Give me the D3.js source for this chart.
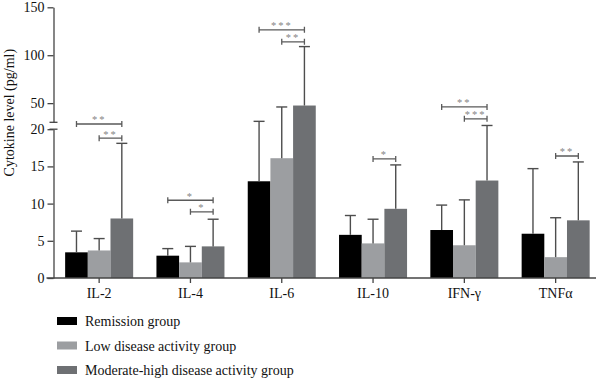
<!DOCTYPE html>
<html>
<head>
<meta charset="utf-8">
<script src="https://cdn.jsdelivr.net/npm/d3@7"></script>
<style>
  body { margin: 0; background: #fff; }
  text { font-family: "Liberation Serif", "DejaVu Serif", serif; }
</style>
</head>
<body>
<div id="canvas"></div>
<script>
// data
const categories = ["IL-2", "IL-4", "IL-6", "IL-10", "IFN-\u03b3", "TNF\u03b1"];
const groups = ["Remission group", "Low disease activity group", "Moderate-high disease activity group"];
const remission = [3.45, 3.0, 13.0, 5.8, 6.45, 5.95];
const remissionSd = [6.3, 3.95, 31.0, 8.4, 9.8, 14.7];
const lowActivity = [3.7, 2.1, 16.1, 4.65, 4.4, 2.8];
const lowActivitySd = [5.3, 4.25, 46.0, 7.9, 10.5, 8.1];
const highActivity = [8.0, 4.25, 47.5, 9.3, 13.1, 7.75];
const highActivitySd = [18.1, 7.9, 109.0, 15.2, 20.5, 15.6];
const lowTicks = [0, 5, 10, 15, 20];
const highTicks = [50, 100, 150];
// significance brackets
const sigCategory = ["IL-2", "IL-2", "IL-4", "IL-4", "IL-6", "IL-6", "IL-10", "IFN-\u03b3", "IFN-\u03b3", "TNF\u03b1"];
const sigFrom = [0, 1, 0, 1, 0, 1, 1, 0, 1, 1];
const sigTo = [2, 2, 2, 2, 2, 2, 2, 2, 2, 2];
const sigLevel = [20.7, 18.8, 10.45, 8.9, 126.5, 114, 16.0, 46, 33.6, 16.4];
const sigLabel = ["**", "**", "*", "*", "***", "**", "*", "**", "***", "**"];

const colors = ["#000000", "#9c9ea1", "#6e7073"];
const values = [remission, lowActivity, highActivity];
const sds = [remissionSd, lowActivitySd, highActivitySd];

const width = 600, height = 379;
const svg = d3.select("#canvas").append("svg")
  .attr("width", width).attr("height", height);

const axisX = 53.5;
const x = d3.scaleBand().domain(categories).range([axisX, 601.3])
  .paddingInner(0.255).paddingOuter(0.1275);
const xi = d3.scaleBand().domain(d3.range(groups.length)).range([0, x.bandwidth()]);

const yLow = d3.scaleLinear().domain([0, 20]).range([278, 129.2]);
const yHigh = d3.scaleLinear().domain([30, 150]).range([122.3, 7.3]);
const y = v => v > 25 ? yHigh(v) : yLow(v);

// bars
const rows = [];
categories.forEach((c, i) => {
  groups.forEach((g, j) => rows.push({ c, j, v: values[j][i], sd: sds[j][i] }));
});

svg.append("g").selectAll("rect").data(rows).enter().append("rect")
  .attr("x", d => x(d.c) + xi(d.j))
  .attr("y", d => y(d.v))
  .attr("width", xi.bandwidth())
  .attr("height", d => y(0) - y(d.v))
  .attr("fill", d => colors[d.j]);

// error bars
const eb = svg.append("g").attr("stroke", "#4d4d4d").attr("stroke-width", 1.4);
rows.forEach(d => {
  const cx = x(d.c) + xi(d.j) + xi.bandwidth() / 2;
  eb.append("line").attr("x1", cx).attr("x2", cx).attr("y1", y(d.v)).attr("y2", y(d.sd));
  eb.append("line").attr("x1", cx - 5.5).attr("x2", cx + 5.5).attr("y1", y(d.sd)).attr("y2", y(d.sd));
});

// y axes (broken)
const gHigh = svg.append("g").attr("transform", `translate(${axisX},0)`)
  .call(d3.axisLeft(yHigh).tickValues(highTicks).tickSize(6).tickSizeOuter(0).tickPadding(3));
const gLow = svg.append("g").attr("transform", `translate(${axisX},0)`)
  .call(d3.axisLeft(yLow).tickValues(lowTicks).tickSize(6).tickSizeOuter(0).tickPadding(3));
[gHigh, gLow].forEach(g => {
  g.selectAll("path, line").attr("stroke", "#444").attr("stroke-width", 1.3);
  g.selectAll("text").attr("font-size", 14).attr("fill", "#111");
});
// break marks
[yHigh(30), yLow(20)].forEach(yy => {
  svg.append("line").attr("x1", axisX - 4).attr("x2", axisX + 4)
    .attr("y1", yy).attr("y2", yy).attr("stroke", "#444").attr("stroke-width", 1.3);
});

// x axis
const gx = svg.append("g").attr("transform", `translate(0,${y(0)})`)
  .call(d3.axisBottom(x).tickSize(5).tickPadding(5));
gx.select(".domain").remove();
gx.selectAll("line").attr("stroke", "#444").attr("stroke-width", 1.3);
gx.selectAll("text").attr("font-size", 14).attr("fill", "#111");
svg.append("line").attr("x1", axisX - 7).attr("x2", 596)
  .attr("y1", y(0)).attr("y2", y(0)).attr("stroke", "#444").attr("stroke-width", 1.3);

// y label
svg.append("text")
  .attr("transform", `translate(14,${(yHigh(150) + yLow(0)) / 2 - 30}) rotate(-90)`)
  .attr("text-anchor", "middle").attr("font-size", 14).attr("fill", "#111")
  .text("Cytokine level (pg/ml)");

// significance brackets
const sg = svg.append("g");
sigCategory.forEach((c, k) => {
  const x1 = x(c) + xi(sigFrom[k]) + xi.bandwidth() / 2;
  const x2 = x(c) + xi(sigTo[k]) + xi.bandwidth() / 2;
  const yy = y(sigLevel[k]);
  sg.append("path")
    .attr("d", `M${x1},${yy - 3}V${yy + 3}M${x1},${yy}H${x2}M${x2},${yy - 3}V${yy + 3}`)
    .attr("stroke", "#5a5a5a").attr("stroke-width", 1.3).attr("fill", "none");
  sg.append("text").attr("x", (x1 + x2) / 2).attr("y", yy - 0.5)
    .attr("text-anchor", "middle").attr("font-size", 10.5).attr("fill", "#858585")
    .attr("letter-spacing", 2)
    .text(sigLabel[k]);
});

// legend
const lg = svg.append("g");
groups.forEach((g, j) => {
  const ly = 321 + j * 24.5;
  lg.append("rect").attr("x", 57).attr("y", ly - 4).attr("width", 20).attr("height", 8)
    .attr("fill", colors[j]);
  lg.append("text").attr("x", 85).attr("y", ly + 5).attr("font-size", 14).attr("fill", "#111")
    .text(g);
});
</script>
</body>
</html>
